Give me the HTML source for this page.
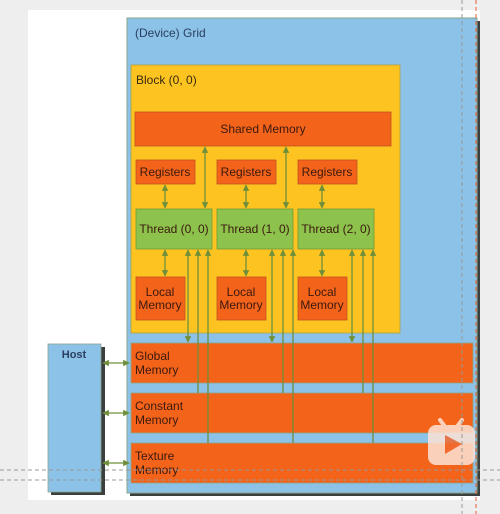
<!DOCTYPE html>
<html><head><meta charset="utf-8"><style>
html,body{margin:0;padding:0;background:#eeeeee;}
svg{display:block;font-family:"Liberation Sans","DejaVu Sans",sans-serif;}
</style></head><body>
<svg width="500" height="514" viewBox="0 0 500 514" xmlns="http://www.w3.org/2000/svg">
<defs>
<marker id="a" viewBox="0 0 10 10" refX="9" refY="5" markerWidth="5" markerHeight="5" orient="auto-start-reverse"><path d="M0,0 L10,5 L0,10 z" fill="#6f8f3a"/></marker>
</defs>
<rect x="0" y="0" width="500" height="514" fill="#eeeeee"/>
<rect x="28" y="10" width="452" height="490" fill="#ffffff"/>
<rect x="130" y="21" width="350" height="475" fill="#3a3f3f"/>
<rect x="127" y="18" width="350" height="475" fill="#8cc1e8" stroke="#8aa58a" stroke-width="1"/>
<text x="135" y="37" font-size="12" fill="#2a4060">(Device) Grid</text>
<rect x="131" y="65" width="269" height="268" fill="#fdc421" stroke="#b0a040" stroke-width="0.8"/>
<text x="136" y="84" font-size="12" fill="#3a2a10">Block (0, 0)</text>
<rect x="135" y="112" width="256" height="34" fill="#f4631a" stroke="#c05020" stroke-width="0.8"/>
<text x="263" y="133" font-size="12" fill="#3a1a10" text-anchor="middle">Shared Memory</text>
<g font-size="12" fill="#3a1a10" text-anchor="middle">
<rect x="136" y="160" width="59" height="24" fill="#f4631a" stroke="#c05020" stroke-width="0.8"/><text x="165" y="176">Registers</text>
<rect x="217" y="160" width="59" height="24" fill="#f4631a" stroke="#c05020" stroke-width="0.8"/><text x="246" y="176">Registers</text>
<rect x="298" y="160" width="59" height="24" fill="#f4631a" stroke="#c05020" stroke-width="0.8"/><text x="327" y="176">Registers</text>
<rect x="136" y="209" width="76" height="40" fill="#8dc24c" stroke="#6f9a3a" stroke-width="0.8"/><text x="174" y="233">Thread (0, 0)</text>
<rect x="217" y="209" width="76" height="40" fill="#8dc24c" stroke="#6f9a3a" stroke-width="0.8"/><text x="255" y="233">Thread (1, 0)</text>
<rect x="298" y="209" width="76" height="40" fill="#8dc24c" stroke="#6f9a3a" stroke-width="0.8"/><text x="336" y="233">Thread (2, 0)</text>
<rect x="136" y="277" width="49" height="43" fill="#f4631a" stroke="#c05020" stroke-width="0.8"/><text x="160" y="296">Local</text><text x="160" y="309">Memory</text>
<rect x="217" y="277" width="49" height="43" fill="#f4631a" stroke="#c05020" stroke-width="0.8"/><text x="241" y="296">Local</text><text x="241" y="309">Memory</text>
<rect x="298" y="277" width="49" height="43" fill="#f4631a" stroke="#c05020" stroke-width="0.8"/><text x="322" y="296">Local</text><text x="322" y="309">Memory</text>
</g>
<g font-size="12" fill="#3a1a10">
<rect x="131" y="343" width="342" height="40" fill="#f4631a" stroke="#8aa58a" stroke-width="0.8"/><text x="135" y="360">Global</text><text x="135" y="374">Memory</text>
<rect x="131" y="393" width="342" height="40" fill="#f4631a" stroke="#8aa58a" stroke-width="0.8"/><text x="135" y="410">Constant</text><text x="135" y="424">Memory</text>
<rect x="131" y="443" width="342" height="40" fill="#f4631a" stroke="#8aa58a" stroke-width="0.8"/><text x="135" y="460">Texture</text><text x="135" y="474">Memory</text>
</g>
<rect x="51" y="347" width="54" height="148" fill="#3a3f3f"/>
<rect x="48" y="344" width="53" height="148" fill="#8cc1e8" stroke="#8aa58a" stroke-width="0.8"/>
<text x="74" y="358" font-size="11" font-weight="bold" fill="#2a4060" text-anchor="middle">Host</text>
<g stroke="#6f8f3a" stroke-width="1.3" fill="none">
<line x1="103" y1="363" x2="129" y2="363" marker-start="url(#a)" marker-end="url(#a)"/>
<line x1="103" y1="413" x2="129" y2="413" marker-start="url(#a)" marker-end="url(#a)"/>
<line x1="103" y1="463" x2="129" y2="463" marker-start="url(#a)" marker-end="url(#a)"/>
<line x1="205" y1="147" x2="205" y2="208" marker-start="url(#a)" marker-end="url(#a)"/>
<line x1="286" y1="147" x2="286" y2="208" marker-start="url(#a)" marker-end="url(#a)"/>
<line x1="165" y1="185" x2="165" y2="208" marker-start="url(#a)" marker-end="url(#a)"/>
<line x1="246" y1="185" x2="246" y2="208" marker-start="url(#a)" marker-end="url(#a)"/>
<line x1="322" y1="185" x2="322" y2="208" marker-start="url(#a)" marker-end="url(#a)"/>
<line x1="165" y1="250" x2="165" y2="276" marker-start="url(#a)" marker-end="url(#a)"/>
<line x1="246" y1="250" x2="246" y2="276" marker-start="url(#a)" marker-end="url(#a)"/>
<line x1="322" y1="250" x2="322" y2="276" marker-start="url(#a)" marker-end="url(#a)"/>
<line x1="188" y1="250" x2="188" y2="342" marker-start="url(#a)" marker-end="url(#a)"/>
<line x1="272" y1="250" x2="272" y2="342" marker-start="url(#a)" marker-end="url(#a)"/>
<line x1="352" y1="250" x2="352" y2="342" marker-start="url(#a)" marker-end="url(#a)"/>
<line x1="198" y1="393" x2="198" y2="250" marker-end="url(#a)"/>
<line x1="283" y1="393" x2="283" y2="250" marker-end="url(#a)"/>
<line x1="363" y1="393" x2="363" y2="250" marker-end="url(#a)"/>
<line x1="208" y1="443" x2="208" y2="250" marker-end="url(#a)"/>
<line x1="293" y1="443" x2="293" y2="250" marker-end="url(#a)"/>
<line x1="373" y1="443" x2="373" y2="250" marker-end="url(#a)"/>
</g>
<g opacity="0.85">
<line x1="440" y1="420" x2="446" y2="428" stroke="#fde3d6" stroke-width="4" stroke-linecap="round"/>
<line x1="462" y1="420" x2="456" y2="428" stroke="#fde3d6" stroke-width="4" stroke-linecap="round"/>
<rect x="428" y="425" width="47" height="40" rx="8" fill="#fde3d6"/>
<path d="M445,435 L462,444 L445,454 z" fill="#f36a2e"/>
</g>
<g stroke-width="1" stroke-dasharray="4,3">
<line x1="462" y1="0" x2="462" y2="514" stroke="#999"/>
<line x1="476" y1="0" x2="476" y2="514" stroke="#e0603a"/>
<line x1="0" y1="470" x2="500" y2="470" stroke="#999"/>
<line x1="0" y1="480" x2="500" y2="480" stroke="#999"/>
</g>
</svg>
</body></html>
